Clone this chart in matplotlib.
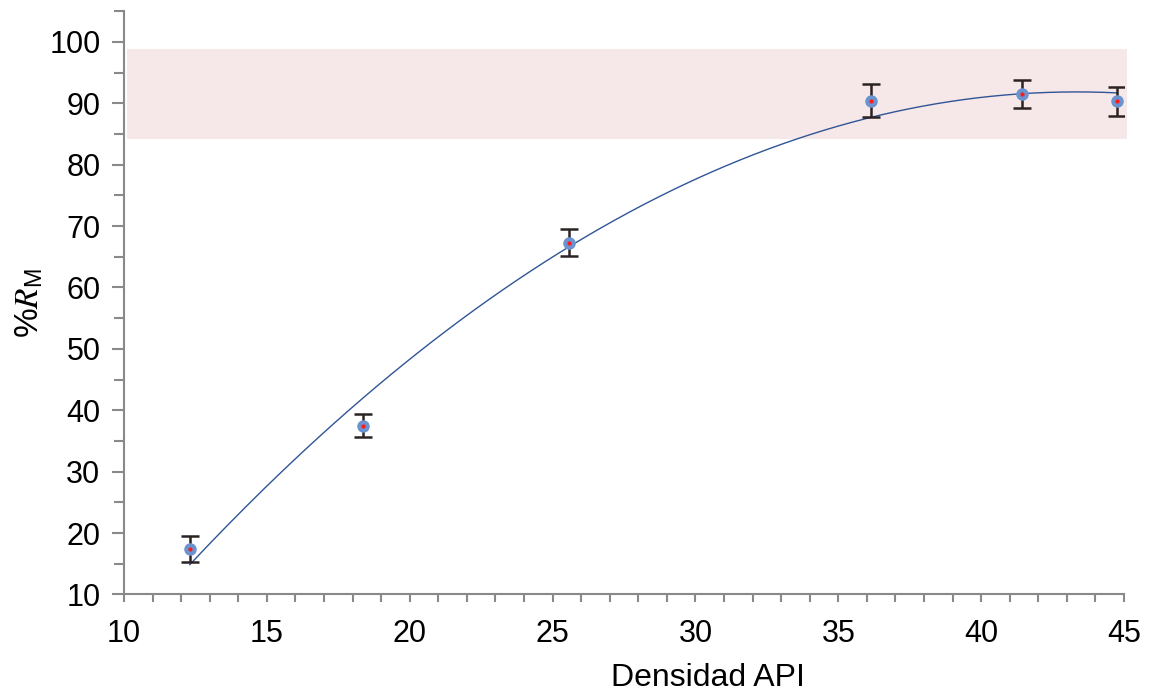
import matplotlib
matplotlib.use("Agg")
import matplotlib.pyplot as plt
from matplotlib.patches import Rectangle
from matplotlib.ticker import MultipleLocator
import numpy as np

plt.rcParams['font.family'] = ['Liberation Sans', 'DejaVu Sans']
plt.rcParams['mathtext.fontset'] = 'custom'
plt.rcParams['mathtext.it'] = 'STIXGeneral:italic'
plt.rcParams['mathtext.rm'] = 'Liberation Sans'

# API gravity vs. recovery (%R_M), with error bars
api = [12.3, 18.37, 25.58, 36.14, 41.43, 44.77]
recovery = [17.4, 37.5, 67.3, 90.4, 91.5, 90.3]
err = [2.1, 1.9, 2.2, 2.7, 2.2, 2.35]

# target recovery band
band_low, band_high = 84.2, 98.9

fig = plt.figure(figsize=(11.54, 6.94), dpi=100)
ax = fig.add_axes([0.1075, 0.1435, 0.8665, 0.8405])

ax.add_patch(Rectangle((10.1, band_low), 35.0, band_high - band_low,
                       facecolor='#f6e8e8', edgecolor='none', zorder=0, clip_on=False))

# quadratic trend through the measurements
coef = np.polyfit(api, recovery, 2)
xs = np.linspace(min(api), max(api), 200)
ax.plot(xs, np.polyval(coef, xs), color='#2f5597', lw=1.0, zorder=2)

ax.errorbar(api, recovery, yerr=err, fmt='none', ecolor='#2b2222',
            elinewidth=1.8, capsize=6.5, capthick=1.8, zorder=3)
ax.plot(api, recovery, 'o', ms=8, mfc='#6a93cf', mec='#6a93cf', zorder=4)
ax.plot(api, recovery, 'o', ms=3, mfc='#ff1a1a', mec='none', zorder=5)

ax.set_xlim(10, 45)
ax.set_ylim(10, 105)
ax.set_xticks(range(10, 46, 5))
ax.set_yticks(range(10, 101, 10))
ax.xaxis.set_minor_locator(MultipleLocator(1))
ax.yaxis.set_minor_locator(MultipleLocator(5))

for s in ['top', 'right']:
    ax.spines[s].set_visible(False)
for s in ['left', 'bottom']:
    ax.spines[s].set_color('#898989')
    ax.spines[s].set_linewidth(1.5)

ax.tick_params(axis='both', which='both', color='#898989', width=1.5, labelsize=22)
ax.tick_params(axis='y', which='major', length=9, pad=8)
ax.tick_params(axis='y', which='minor', length=7)
ax.tick_params(axis='x', which='both', length=6, pad=12)

ax.set_xlabel('Densidad API', fontsize=23, labelpad=8)
ax.xaxis.set_label_coords(0.584, -0.117)
ax.set_ylabel(r'%$R_{\mathrm{M}}$', fontsize=24, labelpad=3)

fig.savefig('out.png', dpi=100)
